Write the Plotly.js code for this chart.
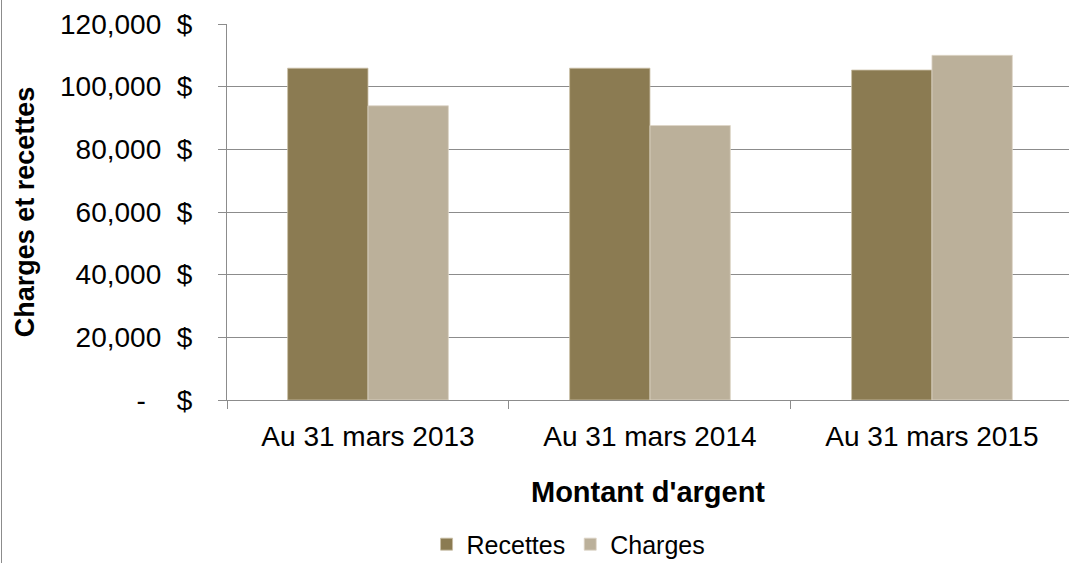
<!DOCTYPE html>
<html>
<head>
<meta charset="utf-8">
<script src="https://cdn.plot.ly/plotly-3.0.1.min.js"></script>
<style>
  html, body { margin: 0; padding: 0; background: #fff; overflow: hidden; }
  #wrap { position: relative; width: 1069px; height: 563px; overflow: hidden; }
  #edge { position: absolute; left: 1px; top: 0; width: 0; height: 563px; border-left: 1px solid #8c8c8c; z-index: 5; }
  #chart { width: 1069px; height: 575px; }
</style>
</head>
<body>
<div id="wrap">
  <div id="edge"></div>
  <div id="chart"></div>
</div>
<script>
const categories = ["Au 31 mars 2013", "Au 31 mars 2014", "Au 31 mars 2015"];
const recettes = [105900, 105900, 105300];
const charges = [93900, 87600, 110000];
const yTickVals = [0, 20000, 40000, 60000, 80000, 100000, 120000];
const yTickText = ["-\u00A0\u00A0\u00A0\u00A0$", "20,000\u00A0\u00A0$", "40,000\u00A0\u00A0$", "60,000\u00A0\u00A0$", "80,000\u00A0\u00A0$", "100,000\u00A0\u00A0$", "120,000\u00A0\u00A0$"];

const font = "Liberation Sans, Arial, sans-serif";

const traces = [
  {
    type: "bar", name: "Recettes", x: categories, y: recettes,
    marker: { color: "#8b7b52", line: { color: "#c9bfa6", width: 0.8 } },
    hoverinfo: "x+y"
  },
  {
    type: "bar", name: "Charges", x: categories, y: charges,
    marker: { color: "#bbb09a", line: { color: "#ddd6c6", width: 0.8 } },
    hoverinfo: "x+y"
  }
];

const layout = {
  width: 1069, height: 575,
  margin: { l: 227, r: 0, t: 24, b: 175 },
  paper_bgcolor: "#ffffff", plot_bgcolor: "#ffffff",
  font: { family: font, color: "#000000", size: 28 },
  barmode: "group",
  bargap: 0.43,
  bargroupgap: 0,
  showlegend: true,
  legend: {
    orientation: "h", x: 0.237, xanchor: "left", y: -0.384, yanchor: "middle",
    font: { family: font, size: 25, color: "#000" },
    traceorder: "normal", itemwidth: 30
  },
  xaxis: {
    type: "category",
    range: [-0.5, 2.486],
    showline: true, linecolor: "#8c8c8c", linewidth: 1,
    ticks: "outside", tickson: "boundaries", ticklen: 8, tickcolor: "#8c8c8c", tickwidth: 1,
    tickfont: { family: font, size: 28, color: "#000" },
    ticklabelstandoff: 11,
    showgrid: false, zeroline: false,
    title: { text: "Montant d'argent", font: { family: font, size: 29, color: "#000", weight: "bold" }, standoff: 31 },
    automargin: false
  },
  yaxis: {
    range: [0, 120000],
    tickvals: yTickVals, ticktext: yTickText,
    showline: true, linecolor: "#8c8c8c", linewidth: 1,
    ticks: "outside", ticklen: 8, tickcolor: "#8c8c8c", tickwidth: 1,
    tickfont: { family: font, size: 28, color: "#000" },
    showgrid: true, gridcolor: "#8c8c8c", gridwidth: 1,
    zeroline: false,
    ticklabelstandoff: 20,
    title: { text: "Charges et recettes\u00A0\u00A0", font: { family: font, size: 27, color: "#000", weight: "bold" }, standoff: 17 },
    automargin: false
  }
};

Plotly.newPlot("chart", traces, layout, { displayModeBar: false, staticPlot: true });
</script>
</body>
</html>
